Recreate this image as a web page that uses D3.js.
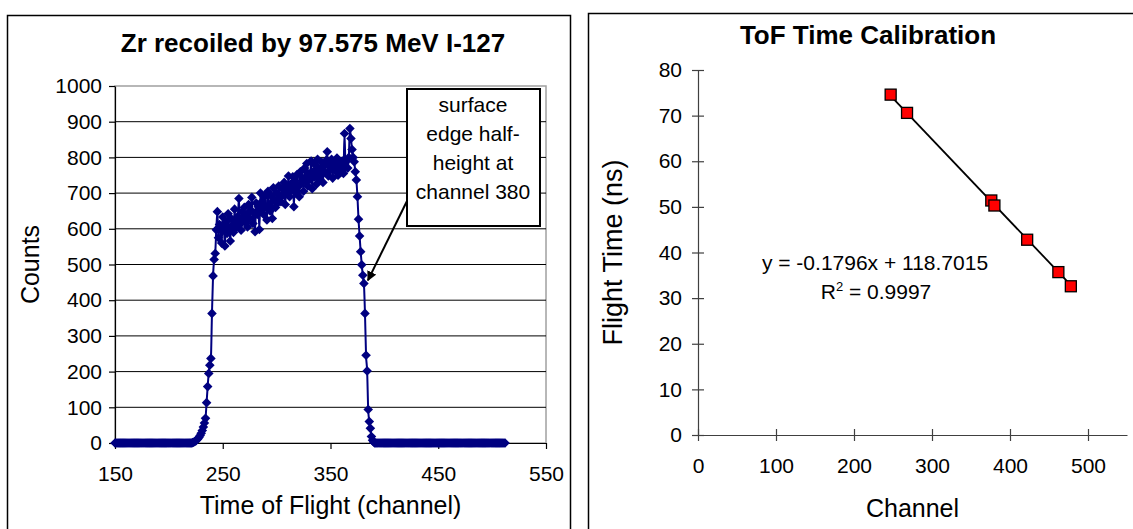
<!DOCTYPE html>
<html>
<head>
<meta charset="utf-8">
<script src="https://cdn.jsdelivr.net/npm/d3@7.9.0/dist/d3.min.js"></script>
<style>
  body { margin: 0; background: #fff; }
  svg { display: block; font-family: "Liberation Sans", Arial, sans-serif; }
</style>
</head>
<body>
<svg id="chart" width="1133" height="529"></svg>
<script>
// ---- left chart: Zr recoil spectrum (one value per channel, starting at 150)
const firstChannel = 150;
const counts = [
  0,0,0,0,0,0,0,0,0,0, 0,0,0,0,0,0,0,0,0,0,
  0,0,0,0,0,0,0,0,0,0, 0,0,0,0,0,0,0,0,0,0,
  0,0,0,0,0,0,0,0,0,0, 0,0,0,0,0,0,0,0,0,0,
  0,0,0,0,0,0,0,0,0,0, 0,0,
  // rising edge 222-243
  1,2,4,6,9,12,16,21,27,35, 45,56,69,113,158,195,218,237,363,468, 514,531,
  // plateau 244-367
  597,
  648,575,612,598,560,633,605,552,620,587,
  642,600,566,628,610,590,655,603,618,635,
  685,612,596,648,625,660,618,640,605,668,
  630,652,688,615,645,592,672,640,662,598,
  700,655,678,640,690,662,625,705,668,650,
  692,629,715,680,660,700,672,720,688,676,
  712,695,730,668,719,700,748,690,725,708,
  746,662,735,700,752,718,690,760,728,742,
  705,770,735,783,720,755,738,790,712,760,
  745,778,725,795,740,768,752,786,730,775,
  758,792,816,748,780,765,795,742,788,770,
  762,798,750,785,772,760,790,755,867,772,790,770,800,
  // falling edge 368-390
  881,853,822,800,788,760,737,690,627,580, 536,499,470,447,363,246,202,94,60,41, 18,8,3,
  // tail 391-512
  0,0,0,0,0,0,0,0,0,0, 0,0,0,0,0,0,0,0,0,0,
  0,0,0,0,0,0,0,0,0,0, 0,0,0,0,0,0,0,0,0,0,
  0,0,0,0,0,0,0,0,0,0, 0,0,0,0,0,0,0,0,0,0,
  0,0,0,0,0,0,0,0,0,0, 0,0,0,0,0,0,0,0,0,0,
  0,0,0,0,0,0,0,0,0,0, 0,0,0,0,0,0,0,0,0,0,
  0,0,0,0,0,0,0,0,0,0, 0,0,0,0,0,0,0,0,0,0,
  0,0
];
const countTicks = [0, 100, 200, 300, 400, 500, 600, 700, 800, 900, 1000];
const tofTicks = [150, 250, 350, 450, 550];
const noteLines = ['surface', 'edge half-', 'height at', 'channel 380'];

// ---- right chart: calibration points
const calChannels = [247, 268, 376, 380, 422, 462, 478];
const calTimes = [74.6, 70.6, 51.4, 50.3, 42.8, 35.7, 32.6];
const timeTicks = [0, 10, 20, 30, 40, 50, 60, 70, 80];
const channelTicks = [0, 100, 200, 300, 400, 500];
const fitSlope = -0.1796;
const fitIntercept = 118.7015;

const svg = d3.select('#chart');
const navy = '#000080';

// panel frames
svg.append('rect').attr('x', 7.5).attr('y', 15.5).attr('width', 563).attr('height', 560)
  .attr('fill', 'none').attr('stroke', '#000').attr('stroke-width', 1.5);
svg.append('rect').attr('x', 588.5).attr('y', 13.5).attr('width', 600).attr('height', 560)
  .attr('fill', 'none').attr('stroke', '#000').attr('stroke-width', 1.5);

function styleText(sel, size) {
  sel.selectAll('text').attr('font-size', size).attr('fill', '#000')
    .attr('font-family', '"Liberation Sans", Arial, sans-serif');
}

// ================= left chart =================
const xL = d3.scaleLinear().domain([150, 550]).range([115, 546]);
const yL = d3.scaleLinear().domain([0, 1000]).range([443, 86]);
const left = svg.append('g');

left.append('text').attr('x', 313).attr('y', 52).attr('text-anchor', 'middle')
  .attr('font-size', 26).attr('font-weight', 'bold').text('Zr recoiled by 97.575 MeV I-127');

left.append('rect')
  .attr('x', xL(150)).attr('y', yL(1000))
  .attr('width', xL(550) - xL(150)).attr('height', yL(0) - yL(1000))
  .attr('fill', 'none').attr('stroke', '#a0a0a0').attr('stroke-width', 1.5);

left.selectAll('line.grid')
  .data(countTicks.filter((v) => v > 0 && v < 1000))
  .join('line')
  .attr('class', 'grid')
  .attr('x1', xL(150)).attr('x2', xL(550))
  .attr('y1', (d) => yL(d)).attr('y2', (d) => yL(d))
  .attr('stroke', '#000').attr('stroke-width', 1);

const yAxisL = left.append('g')
  .attr('transform', `translate(${xL(150)},0)`)
  .call(d3.axisLeft(yL).tickValues(countTicks).tickFormat(d3.format('d'))
    .tickSize(6).tickPadding(7).tickSizeOuter(0));
yAxisL.selectAll('line, path').attr('stroke', '#000').attr('stroke-width', 1.2);
styleText(yAxisL, 21);

const xAxisL = left.append('g')
  .attr('transform', `translate(0,${yL(0)})`)
  .call(d3.axisBottom(xL).tickValues(tofTicks).tickSize(6).tickPadding(17).tickSizeOuter(0));
xAxisL.selectAll('line, path').attr('stroke', '#000').attr('stroke-width', 1.2);
styleText(xAxisL, 21);

left.append('text').attr('x', (xL(150) + xL(550)) / 2).attr('y', 514).attr('text-anchor', 'middle')
  .attr('font-size', 25).text('Time of Flight (channel)');
left.append('text').attr('transform', `translate(39,${(yL(0) + yL(1000)) / 2}) rotate(-90)`)
  .attr('text-anchor', 'middle').attr('font-size', 25).text('Counts');

const spectrum = counts.map((c, i) => ({ ch: firstChannel + i, n: c }));

left.append('path')
  .datum(spectrum)
  .attr('fill', 'none').attr('stroke', navy).attr('stroke-width', 2)
  .attr('d', d3.line().x((d) => xL(d.ch)).y((d) => yL(d.n)).curve(d3.curveMonotoneX));

left.selectAll('path.mk')
  .data(spectrum)
  .join('path')
  .attr('class', 'mk')
  .attr('transform', (d) => `translate(${xL(d.ch)},${yL(d.n)})`)
  .attr('d', 'M0,-4.8L4.8,0L0,4.8L-4.8,0Z')
  .attr('fill', navy);

// annotation box + arrow
svg.append('defs').append('marker')
  .attr('id', 'arrow').attr('viewBox', '0 0 10 10').attr('refX', 9).attr('refY', 5)
  .attr('markerWidth', 5).attr('markerHeight', 5).attr('orient', 'auto')
  .append('path').attr('d', 'M0,0L10,5L0,10Z').attr('fill', '#000');

left.append('line')
  .attr('x1', 407).attr('y1', 201).attr('x2', xL(381) + 4).attr('y2', yL(447) - 3)
  .attr('stroke', '#000').attr('stroke-width', 2).attr('marker-end', 'url(#arrow)');

left.append('rect').attr('x', 407).attr('y', 89).attr('width', 133).attr('height', 137)
  .attr('fill', '#fff').attr('stroke', '#000').attr('stroke-width', 2);
left.selectAll('text.note')
  .data(noteLines)
  .join('text')
  .attr('class', 'note')
  .attr('x', 473).attr('y', (d, i) => 112 + i * 29)
  .attr('text-anchor', 'middle').attr('font-size', 21)
  .text((d) => d);

// ================= right chart =================
const xR = d3.scaleLinear().domain([0, 550]).range([698, 1127]);
const yR = d3.scaleLinear().domain([0, 80]).range([435, 70]);
const right = svg.append('g');

right.append('text').attr('x', 868).attr('y', 44).attr('text-anchor', 'middle')
  .attr('font-size', 26).attr('font-weight', 'bold').text('ToF Time Calibration');

const yAxisR = right.append('g')
  .attr('transform', `translate(${xR(0)},0)`)
  .call(d3.axisLeft(yR).tickValues(timeTicks).tickSize(6).tickPadding(10).tickSizeOuter(0));
yAxisR.selectAll('.tick line').attr('x1', 6);
yAxisR.selectAll('line, path').attr('stroke', '#404040').attr('stroke-width', 1.2);
styleText(yAxisR, 21);

const xAxisR = right.append('g')
  .attr('transform', `translate(0,${yR(0)})`)
  .call(d3.axisBottom(xR).tickValues(channelTicks).tickSize(6).tickPadding(17).tickSizeOuter(0));
xAxisR.selectAll('.tick line').attr('y1', -6);
xAxisR.selectAll('line, path').attr('stroke', '#404040').attr('stroke-width', 1.2);
styleText(xAxisR, 21);

right.append('text').attr('x', (xR(0) + xR(550)) / 2).attr('y', 517).attr('text-anchor', 'middle')
  .attr('font-size', 25).text('Channel');
right.append('text').attr('transform', `translate(622,${(yR(0) + yR(80)) / 2}) rotate(-90)`)
  .attr('text-anchor', 'middle').attr('font-size', 27).text('Flight Time (ns)');

// linear trendline across the data range
const xMin = d3.min(calChannels), xMax = d3.max(calChannels);
right.append('line')
  .attr('x1', xR(xMin)).attr('y1', yR(fitSlope * xMin + fitIntercept))
  .attr('x2', xR(xMax)).attr('y2', yR(fitSlope * xMax + fitIntercept))
  .attr('stroke', '#000').attr('stroke-width', 1.8);

right.selectAll('rect.pt')
  .data(calChannels.map((c, i) => ({ c, t: calTimes[i] })))
  .join('rect')
  .attr('class', 'pt')
  .attr('x', (d) => xR(d.c) - 5.5).attr('y', (d) => yR(d.t) - 5.5)
  .attr('width', 11).attr('height', 11)
  .attr('fill', '#ff0000').attr('stroke', '#000').attr('stroke-width', 1.3);

right.append('text').attr('x', 875).attr('y', 270).attr('text-anchor', 'middle')
  .attr('font-size', 21).text(`y = ${fitSlope}x + ${fitIntercept}`);
const r2 = right.append('text').attr('x', 876).attr('y', 299).attr('text-anchor', 'middle')
  .attr('font-size', 21);
r2.append('tspan').text('R');
r2.append('tspan').attr('font-size', 13).attr('dy', -8).text('2');
r2.append('tspan').attr('dy', 8).text(' = 0.9997');
</script>
</body>
</html>
